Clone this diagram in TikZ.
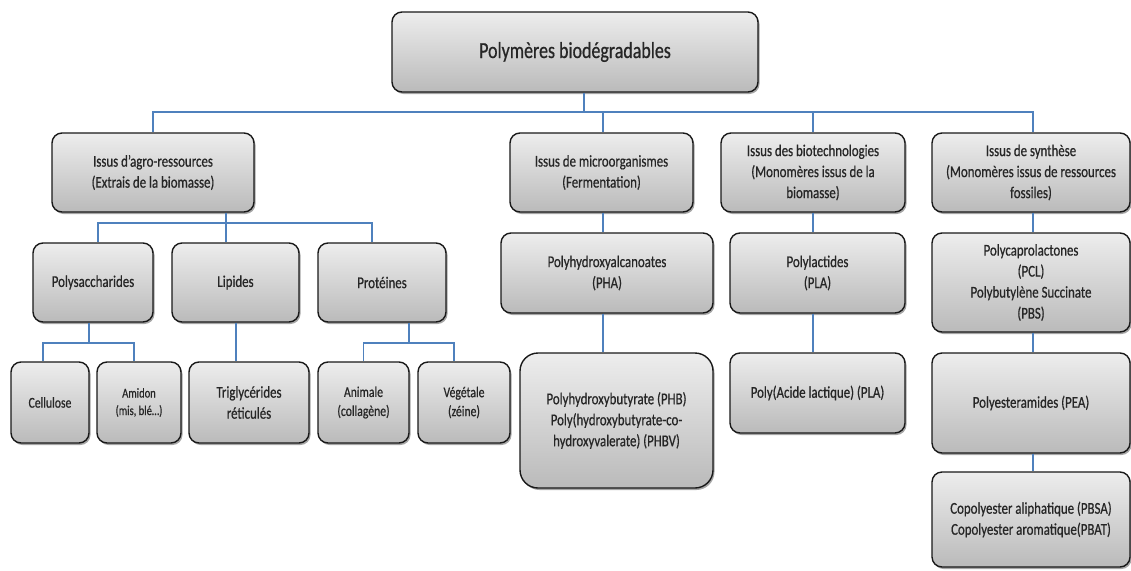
\documentclass[tikz,border=0pt]{standalone}
\usepackage{fontspec}
\setmainfont{Carlito}[FakeStretch=0.78,FakeBold=0.6]
\usetikzlibrary{shadows}
\begin{document}
\begin{tikzpicture}[x=1pt,y=-1pt,
  box/.style={draw=black!90, line width=1.4pt, rounded corners=10pt,
    top color=black!7, bottom color=black!27, align=center, text=black!85,
    inner sep=2pt, font=\fontsize{16.5}{21}\selectfont,
    drop shadow={shadow xshift=1.5pt, shadow yshift=-2pt, opacity=0.35, fill=black}},
]
\useasboundingbox (0,0) rectangle (1131,570);
\tikzset{link/.style={draw={rgb,255:red,79;green,129;blue,189}, line width=1.2pt}}
% level 0
\node[box, minimum width=366pt, minimum height=80pt, font=\fontsize{23}{28}\selectfont] (top) at (575,52) {Polymères biodégradables};
% level 1
\node[box, minimum width=202pt, minimum height=79pt] (agro) at (153,172.5) {Issus d’agro-ressources\\(Extrais de la biomasse)};
\node[box, minimum width=183pt, minimum height=79pt] (micro) at (601.5,172.5) {Issus de microorganismes\\(Fermentation)};
\node[box, minimum width=184pt, minimum height=79pt] (biotech) at (813,172.5) {Issus des biotechnologies\\(Monomères issus de la\\biomasse)};
\node[box, minimum width=198pt, minimum height=79pt] (synth) at (1031,172.5) {Issus de synthèse\\(Monomères issus de ressources\\fossiles)};
% level 2 left
\node[box, minimum width=120pt, minimum height=79pt] (poly) at (93,282.5) {Polysaccharides};
\node[box, minimum width=127pt, minimum height=79pt] (lip) at (235.5,282.5) {Lipides};
\node[box, minimum width=128pt, minimum height=79pt] (prot) at (382,282.5) {Protéines};
% level 3 left
\node[box, minimum width=78pt, minimum height=81pt, font=\fontsize{15}{19}\selectfont] (cell) at (50,402.5) {Cellulose};
\node[box, minimum width=84pt, minimum height=81pt, font=\fontsize{13.5}{17.5}\selectfont] (amid) at (139,402.5) {Amidon\\(mis, blé…)};
\node[box, minimum width=120pt, minimum height=81pt] (trig) at (249,402.5) {Triglycérides\\réticulés};
\node[box, minimum width=91pt, minimum height=81pt, font=\fontsize{15}{19}\selectfont] (anim) at (363.5,402.5) {Animale\\(collagène)};
\node[box, minimum width=92pt, minimum height=81pt, font=\fontsize{15}{19}\selectfont] (veg) at (464,402.5) {Végétale\\(zéine)};
% middle columns
\node[box, minimum width=212pt, minimum height=80pt] (pha) at (607,273) {Polyhydroxyalcanoates\\(PHA)};
\node[box, minimum width=193pt, minimum height=135pt, rounded corners=18pt] (phb) at (616.5,420.5) {Polyhydroxybutyrate (PHB)\\Poly(hydroxybutyrate-co-\\hydroxyvalerate) (PHBV)};
\node[box, minimum width=175pt, minimum height=80pt] (plac) at (817.5,273) {Polylactides\\(PLA)};
\node[box, minimum width=175pt, minimum height=80pt] (pla) at (817.5,393) {Poly(Acide lactique) (PLA)};
% right column
\node[box, minimum width=198pt, minimum height=99pt] (pcl) at (1031,282.5) {Polycaprolactones\\(PCL)\\Polybutylène Succinate\\(PBS)};
\node[box, minimum width=198pt, minimum height=100pt] (pea) at (1031,403) {Polyesteramides (PEA)};
\node[box, minimum width=198pt, minimum height=95pt] (copo) at (1031,519.5) {Copolyester aliphatique (PBSA)\\Copolyester aromatique(PBAT)};
% connectors
\coordinate (bus) at (0,112);
\coordinate (busL) at (0,223);
\coordinate (busP) at (0,343);
\draw[link] ([xshift=9pt]top.south) -- ([xshift=9pt]top.south |- bus);
\draw[link] (agro.north) |- ([xshift=2pt]synth.north |- bus) -- ([xshift=2pt]synth.north);
\draw[link] ([xshift=1.5pt]micro.north) -- ([xshift=1.5pt]micro.north |- bus);
\draw[link] (biotech.north) -- (biotech.north |- bus);
% agro subtree
\draw[link] ([xshift=73pt]agro.south) -- ([xshift=73pt]agro.south |- busL);
\draw[link] ([xshift=5pt]poly.north) |- ([xshift=-10pt]prot.north |- busL) -- ([xshift=-10pt]prot.north);
\draw[link] ([xshift=-9.5pt]lip.north |- busL) -- ([xshift=-9.5pt]lip.north);
\draw[link] ([xshift=0.5pt]lip.south) -- ([xshift=0.5pt]lip.south |- trig.north);
\draw[link] ([xshift=-4pt]poly.south) -- ([xshift=-4pt]poly.south |- busP);
\draw[link] ([xshift=-7pt]cell.north) |- ([xshift=-5pt]amid.north |- busP) -- ([xshift=-5pt]amid.north);
\draw[link] ([xshift=27pt]prot.south) -- ([xshift=27pt]prot.south |- busP);
\draw[link] (anim.north) |- ([xshift=-10pt]veg.north |- busP) -- ([xshift=-10pt]veg.north);
% middle
\draw[link] ([xshift=1.5pt]micro.south) -- ([xshift=-4pt]pha.north);
\draw[link] ([xshift=-4pt]pha.south) -- ([xshift=-13.5pt]phb.north);
\draw[link] (biotech.south) -- ([xshift=-4.5pt]plac.north);
\draw[link] ([xshift=-4.5pt]plac.south) -- ([xshift=-4.5pt]pla.north);
% right
\draw[link] ([xshift=2pt]synth.south) -- ([xshift=2pt]pcl.north);
\draw[link] ([xshift=2pt]pcl.south) -- ([xshift=2pt]pea.north);
\draw[link] ([xshift=2pt]pea.south) -- ([xshift=2pt]copo.north);
\end{tikzpicture}
\end{document}
